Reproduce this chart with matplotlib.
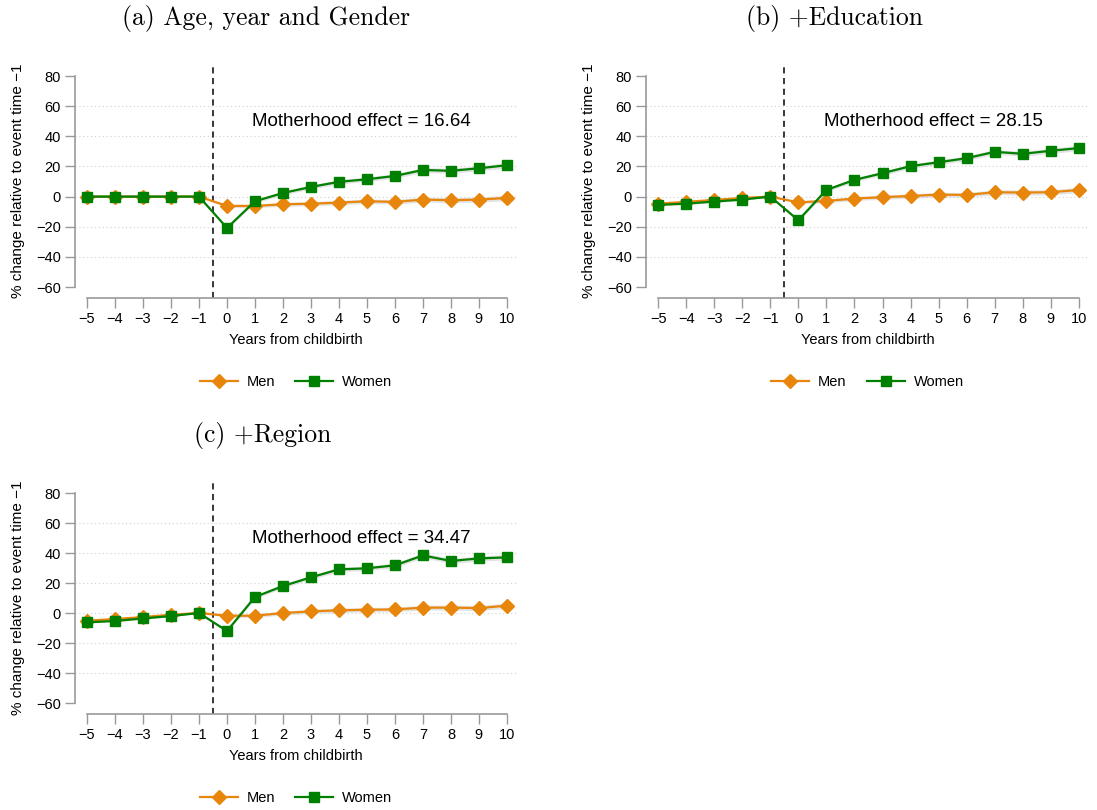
import numpy as np
import matplotlib
matplotlib.use('Agg')
import matplotlib.pyplot as plt

plt.rcParams['font.family'] = ['Liberation Sans', 'DejaVu Sans']

years = list(range(-5, 11))
xtick_labels = [str(y) for y in years]
yticks = [-60, -40, -20, 0, 20, 40, 60, 80]
grid_levels = [-40, -20, 0, 20, 40, 60]

titles = ['(a) Age, year and Gender', '(b) +Education', '(c) +Region']
effects = [16.64, 28.15, 34.47]

# values, one list per panel
men_a = [0, 0, 0, 0, 0, -6.2, -6.2, -5.1, -4.7, -4.0, -3.1, -3.5, -2.0, -2.4, -2.0, -0.9]
women_a = [0, 0, 0, 0, 0, -20.8, -3.1, 2.4, 6.4, 9.8, 11.5, 13.7, 17.7, 17.1, 18.8, 20.8]
men_b = [-4.7, -3.5, -2.2, -0.9, 0, -3.8, -2.9, -1.3, -0.4, 0.4, 1.3, 1.1, 2.9, 2.7, 2.9, 4.4]
women_b = [-5.5, -4.7, -3.3, -2.0, 0, -15.7, 4.4, 11.1, 15.5, 20.2, 22.8, 25.5, 29.7, 28.4, 30.4, 32.2]
men_c = [-5.1, -4.0, -2.7, -1.1, 0, -1.8, -1.8, 0, 1.1, 1.8, 2.2, 2.4, 3.6, 3.6, 3.3, 4.9]
women_c = [-6.2, -5.3, -3.6, -2.0, 0, -12.0, 10.7, 18.0, 23.8, 29.1, 29.8, 31.8, 38.4, 34.7, 36.4, 37.1]

# rough half-width of the faint confidence band
ci_half = [0.6, 0.6, 0.6, 0.6, 0, 1.0, 1.2, 1.3, 1.4, 1.5, 1.5, 1.6, 1.6, 1.7, 1.7, 1.8]

panels = [(men_a, women_a), (men_b, women_b), (men_c, women_c)]

men_color = '#E8860C'
women_color = '#008000'
spine_color = '#999999'

W, H = 1097, 810
fig = plt.figure(figsize=(W / 100, H / 100), dpi=100)

# axes boxes in pixels: left, top, right, bottom
boxes = [(75, 64, 517, 298), (646, 64, 1089, 298), (75, 481, 517, 714)]
title_pos = [(266, 18), (835, 18), (263, 435)]

for k, ((men, women), box) in enumerate(zip(panels, boxes)):
    l, t, r, b = box
    ax = fig.add_axes([l / W, 1 - b / H, (r - l) / W, (b - t) / H])

    for lvl in grid_levels:
        ax.axhline(lvl, color='#cfcfcf', lw=0.8, ls=(0, (1, 2.5)), zorder=0)

    men = np.array(men)
    women = np.array(women)
    ci = np.array(ci_half)
    ax.fill_between(years, men - ci, men + ci, color='#b0b0b0', alpha=0.35, lw=0, zorder=1)
    ax.fill_between(years, women - ci, women + ci, color='#b0b0b0', alpha=0.35, lw=0, zorder=1)

    ax.plot(years, men, color=men_color, marker='D', ms=7, lw=1.6, label='Men', zorder=3)
    ax.plot(years, women, color=women_color, marker='s', ms=7, lw=1.6, label='Women', zorder=4)

    ax.axvline(-0.5, color='black', lw=1.1, ls=(0, (4, 3)), zorder=2)

    ax.text(4.8, 50, f'Motherhood effect = {effects[k]:.2f}', fontsize=13.5,
            ha='center', va='center')

    ax.set_xlim(-5.43, 10.36)
    ax.set_ylim(-67.3, 88)
    ax.set_xticks(years)
    ax.set_xticklabels([lbl.replace('-', '\u2212') for lbl in xtick_labels])
    ax.set_yticks(yticks)

    for side in ['top', 'right']:
        ax.spines[side].set_visible(False)
    ax.spines['left'].set_bounds(-60, 80)
    ax.spines['bottom'].set_bounds(-5, 10)
    for side in ['left', 'bottom']:
        ax.spines[side].set_color(spine_color)
        ax.spines[side].set_linewidth(1.2)
    ax.tick_params(axis='both', colors=spine_color, labelcolor='black',
                   length=7, width=1.0, labelsize=10.5, pad=3)

    ax.set_xlabel('Years from childbirth', fontsize=10.5)
    ax.xaxis.set_label_coords(0.5, -0.15)
    ax.set_ylabel('% change relative to event time \u22121', fontsize=11)
    ax.yaxis.set_label_coords(-0.113, 0.5)

    ax.legend(loc='center', bbox_to_anchor=(0.5, -0.36), ncol=2, frameon=False,
              fontsize=10.5, handlelength=2.6, columnspacing=1.4, handletextpad=0.6)

    tx, ty = title_pos[k]
    fig.text(tx / W, 1 - ty / H, titles[k], fontsize=18.5, ha='center', va='center',
             family='cmr10')

fig.savefig('out.png', dpi=100)
